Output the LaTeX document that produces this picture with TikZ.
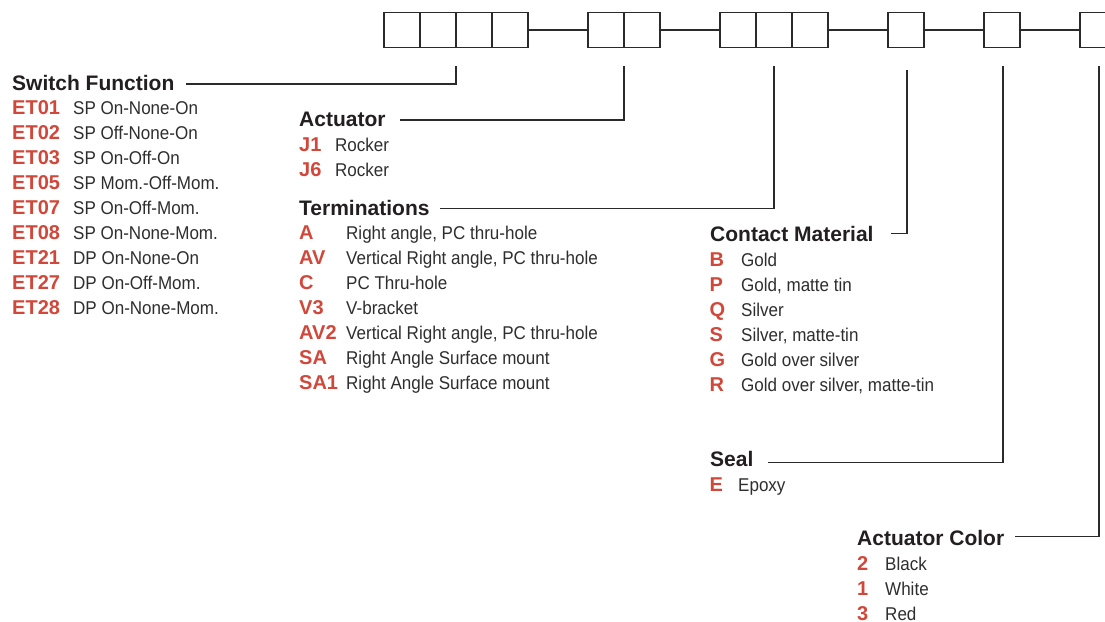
\documentclass[tikz,border=0pt]{standalone}
\usepackage{fontspec}
\setmainfont{Liberation Sans}
\newfontfamily\condfont[FakeStretch=0.92]{Liberation Sans}
\usetikzlibrary{calc}
\definecolor{accent}{HTML}{D2473A}
\definecolor{ink}{HTML}{231F20}
\definecolor{bodyink}{HTML}{2E2E2E}
\definecolor{rulecol}{HTML}{2A2A2A}
\tikzset{
  box/.style={draw=rulecol, line width=1.4pt, minimum width=36pt, minimum height=35.5pt, inner sep=0pt, outer sep=0pt},
  headtxt/.style={anchor=base west, inner sep=0pt, text=ink, font=\fontsize{21}{21}\selectfont\bfseries},
  codetxt/.style={anchor=base west, inner sep=0pt, text=accent, font=\fontsize{20}{20}\selectfont\bfseries},
  desctxt/.style={anchor=base west, inner sep=0pt, text=bodyink, font=\fontsize{18.5}{18.5}\selectfont\condfont},
  leader/.style={draw=rulecol, line width=1.2pt},
}
\begin{document}
\begin{tikzpicture}[x=1pt,y=-1pt]
\useasboundingbox (0,0) rectangle (1105,621);
\clip (0,0) rectangle (1105,621);
\fill[white] (0,0) rectangle (1105,621);

% code boxes
\foreach \n/\x in {1/402,2/438,3/474,4/510,5/606,6/642,7/738,8/774,9/810,10/906,11/1002,12/1098}
  \node[box] (b\n) at (\x,30) {};
\draw[leader] (b4.east) -- (b5.west);
\draw[leader] (b6.east) -- (b7.west);
\draw[leader] (b9.east) -- (b10.west);
\draw[leader] (b10.east) -- (b11.west);
\draw[leader] (b11.east) -- (b12.west);

% headings
\node[headtxt] (hsf) at (12,90) {Switch Function};
\node[headtxt] (hact) at (299,126.7) {Actuator};
\node[headtxt] (hter) at (299,215) {Terminations};
\node[headtxt] (hcon) at (710,241.7) {Contact Material};
\node[headtxt] (hseal) at (710,466.7) {Seal};
\node[headtxt] (hcol) at (857,545) {Actuator Color};

% leader ends
\coordinate (sfs) at (186,84);
\coordinate (sft) at ($(b2.south east)+(0,18)$);
\coordinate (acs) at (400,120);
\coordinate (act) at ($(b5.south east)+(0,18)$);
\coordinate (tes) at (440,208.3);
\coordinate (tet) at ($(b8.south)+(0,18)$);
\coordinate (cos) at (891,233.3);
\coordinate (cot) at ($(b10.south)+(1,22)$);
\coordinate (ses) at (768,462.3);
\coordinate (set) at ($(b11.south)+(1,18)$);
\coordinate (cls) at (1015,536.7);
\coordinate (clt) at ($(b12.south)+(1,18)$);
\draw[leader] (sfs) -| (sft);
\draw[leader] (acs) -| (act);
\draw[leader] (tes) -| (tet);
\draw[leader] (cos) -| (cot);
\draw[leader] (ses) -| (set);
\draw[leader] (cls) -| (clt);

% Switch Function items
\foreach \i/\c/\d in {0/ET01/{SP On-None-On},1/ET02/{SP Off-None-On},2/ET03/{SP On-Off-On},3/ET05/{SP Mom.-Off-Mom.},4/ET07/{SP On-Off-Mom.},5/ET08/{SP On-None-Mom.},6/ET21/{DP On-None-On},7/ET27/{DP On-Off-Mom.},8/ET28/{DP On-None-Mom.}}{
  \node[codetxt] (sfc\i) at (12,114.3+25*\i) {\c};
  \node[desctxt] (sfd\i) at (73,114.3+25*\i) {\d};
}

% Actuator items
\foreach \i/\c/\d in {0/J1/Rocker,1/J6/Rocker}{
  \node[codetxt] (acc\i) at (299,151.7+25*\i) {\c};
  \node[desctxt] (acd\i) at (335,151.7+25*\i) {\d};
}

% Terminations items
\foreach \i/\c/\d in {0/A/{Right angle, PC thru-hole},1/AV/{Vertical Right angle, PC thru-hole},2/C/{PC Thru-hole},3/V3/{V-bracket},4/AV2/{Vertical Right angle, PC thru-hole},5/SA/{Right Angle Surface mount},6/SA1/{Right Angle Surface mount}}{
  \node[codetxt] (tec\i) at (299,239.3+25*\i) {\c};
  \node[desctxt] (ted\i) at (346,239.3+25*\i) {\d};
}

% Contact Material items
\foreach \i/\c/\d in {0/B/Gold,1/P/{Gold, matte tin},2/Q/Silver,3/S/{Silver, matte-tin},4/G/{Gold over silver},5/R/{Gold over silver, matte-tin}}{
  \node[codetxt] (coc\i) at (709.5,266.7+25*\i) {\c};
  \node[desctxt] (cod\i) at (741,266.7+25*\i) {\d};
}

% Seal items
\node[codetxt] (sec0) at (709.5,491.7) {E};
\node[desctxt] (sed0) at (738,491.7) {Epoxy};

% Actuator Color items
\foreach \i/\c/\d in {0/2/Black,1/1/White,2/3/Red}{
  \node[codetxt] (clc\i) at (857,570+25*\i) {\c};
  \node[desctxt] (cld\i) at (885,570+25*\i) {\d};
}
\end{tikzpicture}
\end{document}
